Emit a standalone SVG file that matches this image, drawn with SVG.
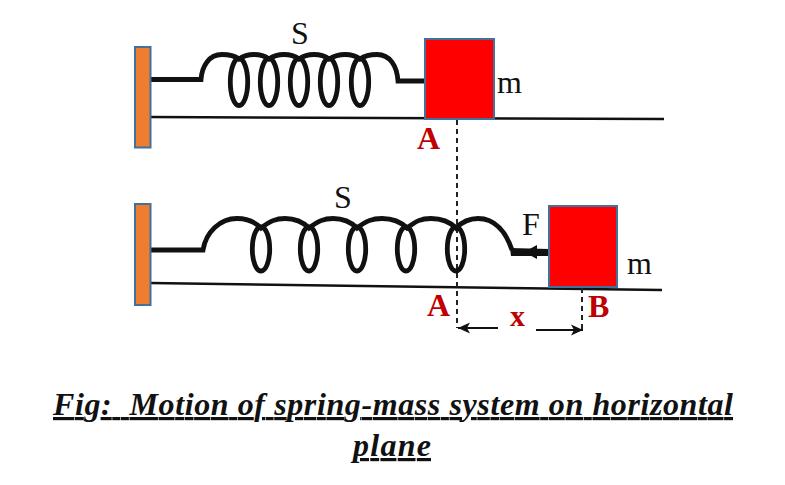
<svg xmlns="http://www.w3.org/2000/svg" width="785" height="485" viewBox="0 0 785 485">
<style>
.wall{fill:#ED7D31;stroke:#41719C;stroke-width:2}
.mass{fill:#FF0000;stroke:#41719C;stroke-width:2}
.coil{fill:none;stroke:#111;stroke-width:4.800;stroke-linejoin:miter}
.line{fill:none;stroke:#111;stroke-width:2.500}
.dash{fill:none;stroke:#222;stroke-width:2;stroke-dasharray:5 4}
.thin{fill:none;stroke:#111;stroke-width:2}
.t{font-family:"Liberation Serif","Times New Roman",serif;font-size:32px;fill:#111}
.r{font-family:"Liberation Serif","Times New Roman",serif;font-size:32px;font-weight:bold;fill:#C00000}
.c{font-family:"Liberation Serif","Times New Roman",serif;font-size:32px;font-weight:bold;font-style:italic;fill:#111;text-decoration:underline;text-anchor:middle}
</style>
<defs>
<marker id="open" markerWidth="16" markerHeight="14" refX="13" refY="7" orient="auto" markerUnits="userSpaceOnUse"><path d="M1 1.500 L13 7 L1 12.500 L4 7 Z" fill="#111"/></marker>
</defs>
<g id="connectors">
<path class="line" d="M150 117 L664 119"/>
<path class="line" d="M150 283 L662 290"/>
<path class="dash" d="M457 120 V328"/>
<path class="dash" d="M582 288 V330"/>
<path class="thin" marker-end="url(#open)" d="M498 328 L458 328"/>
<path class="thin" marker-end="url(#open)" d="M536 330 L583 330"/>
</g>
<g id="spring-top">
<path class="coil" d="M150 79.500 H201 C202 66 209 54.500 222 54.500 C230 54.500 235 56 239 59 C244 55.500 249 54.500 254 54.500 C260 54.500 265 56 269 59 C274 55.500 279 54.500 284 54.500 C290 54.500 295 56 299 59 C304 55.500 309 54.500 314 54.500 C320 54.500 325 56 329 59 C335 55.500 339 54.500 345 54.500 C351 54.500 356 56 360 59 C365 55.500 369 54.500 377 54.500 C390 54.500 397 66 398 81 H425"/>
<ellipse class="coil" cx="239" cy="82" rx="8.700" ry="23.500"/>
<ellipse class="coil" cx="269" cy="82" rx="8.700" ry="23.500"/>
<ellipse class="coil" cx="299" cy="82" rx="8.700" ry="23.500"/>
<ellipse class="coil" cx="329" cy="82" rx="8.700" ry="23.500"/>
<ellipse class="coil" cx="360" cy="82" rx="8.700" ry="23.500"/>
</g>
<g id="spring-bottom">
<path class="coil" d="M150 250 H203 C206 232 220 218.500 237 218.500 C247 218.500 255 222 261 228 C270 221 276 218.500 285 218.500 C295 218.500 303 222 309 228 C318 221 324 218.500 333 218.500 C343 218.500 351 222 357 228 C366 221 372 218.500 382 218.500 C392 218.500 401 222 407 228 C416 221 421 218.500 431 218.500 C441 218.500 450 222 456 228 C463 221 469 218.500 478 218.500 C495 218.500 506 232 512 250"/>
<path d="M510 248 L549 249 V256 L511 256 Z" fill="#111"/>
<path d="M524 252 L537 245 V259 Z" fill="#111"/>
<ellipse class="coil" cx="261" cy="249" rx="8.700" ry="22"/>
<ellipse class="coil" cx="309" cy="249" rx="8.700" ry="22"/>
<ellipse class="coil" cx="357" cy="249" rx="8.700" ry="22"/>
<ellipse class="coil" cx="406" cy="249" rx="8.700" ry="22"/>
<ellipse class="coil" cx="456" cy="249" rx="8.700" ry="22"/>
</g>
<g id="wall-top"><rect class="wall" x="135" y="47" width="15.500" height="100.500"/></g>
<g id="wall-bottom"><rect class="wall" x="135" y="204" width="15.500" height="101"/></g>
<g id="mass-top"><rect class="mass" x="425" y="39" width="69" height="80"/><text class="t" x="497" y="93">m</text><text class="r" x="417" y="149">A</text></g>
<g id="mass-bottom"><rect class="mass" x="549" y="206" width="68" height="81"/><text class="t" x="627" y="274">m</text><text class="r" x="588" y="317">B</text></g>
<g id="labels">
<text class="t" x="291" y="44">S</text>
<text class="t" x="334" y="208">S</text>
<text class="t" x="522" y="235">F</text>
<text class="r" x="427" y="316">A</text>
<text class="r" x="510" y="326" style="font-size:30px">x</text>
<text class="c" x="393" y="415" xml:space="preserve" textLength="680" lengthAdjust="spacing">Fig:  Motion of spring-mass system on horizontal</text>
<text class="c" x="392" y="456" textLength="78" lengthAdjust="spacing">plane</text>
</g>
</svg>
